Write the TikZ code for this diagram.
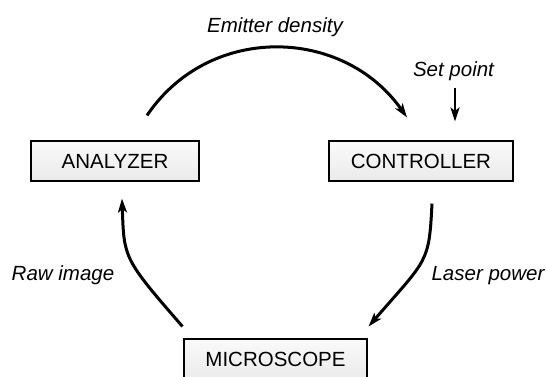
\documentclass[tikz,border=0pt]{standalone}
\usepackage{fontspec}
\setmainfont{Liberation Sans}
\usetikzlibrary{arrows.meta,calc}
\begin{document}
\begin{tikzpicture}[x=1pt,y=1pt,
  blockbox/.style={draw=black,line width=1.1pt,top color=gray!4,bottom color=gray!16,
    minimum height=40pt,inner sep=0pt,font=\fontsize{20.5}{24}\selectfont},
  lbl/.style={font=\fontsize{20.5}{24}\selectfont\itshape,anchor=base},
  flow/.style={line width=3pt,-{Stealth[length=14pt,width=9pt,inset=3.5pt]}}]
\useasboundingbox (0,0) rectangle (547,376);
\node[blockbox,minimum width=168pt] (an) at (115,215) {ANALYZER};
\node[blockbox,minimum width=184pt] (co) at (421,215) {CONTROLLER};
\node[blockbox,minimum width=183pt] (mi) at (275.5,17) {MICROSCOPE};
\node[lbl] (ed) at (275,344) {Emitter density};
\node[lbl] (sp) at (453.5,300) {Set point};
\node[lbl] (ri) at (63,96) {Raw image};
\node[lbl] (lp) at (488,96) {Laser power};
\coordinate (t0) at ($(an.north)+(32,25)$);
\coordinate (t1) at ($(co.north)+(-14,23)$);
\coordinate (r0) at ($(co.south)+(11,-22)$);
\coordinate (r1) at ($(mi.north east)+(1,12)$);
\coordinate (l0) at ($(mi.north west)+(-1,12)$);
\coordinate (l1) at ($(an.south)+(7,-17)$);
\coordinate (s1) at ($(co.north)+(34,19)$);
\draw[flow] (t0) .. controls ($(t0)+(62,92)$) and ($(t1)+(-64,91)$) .. (t1);
\draw[flow] (r0) .. controls ($(r0)+(-3,-60)$) and ($(r1)+(59,68)$) .. (r1);
\draw[flow] (l0) .. controls ($(l0)+(-59,68)$) and ($(l1)+(2,-60)$) .. (l1);
\draw[flow,line width=2.6pt] (sp.south -| s1) ++(0,-4) -- (s1);
\end{tikzpicture}
\end{document}
